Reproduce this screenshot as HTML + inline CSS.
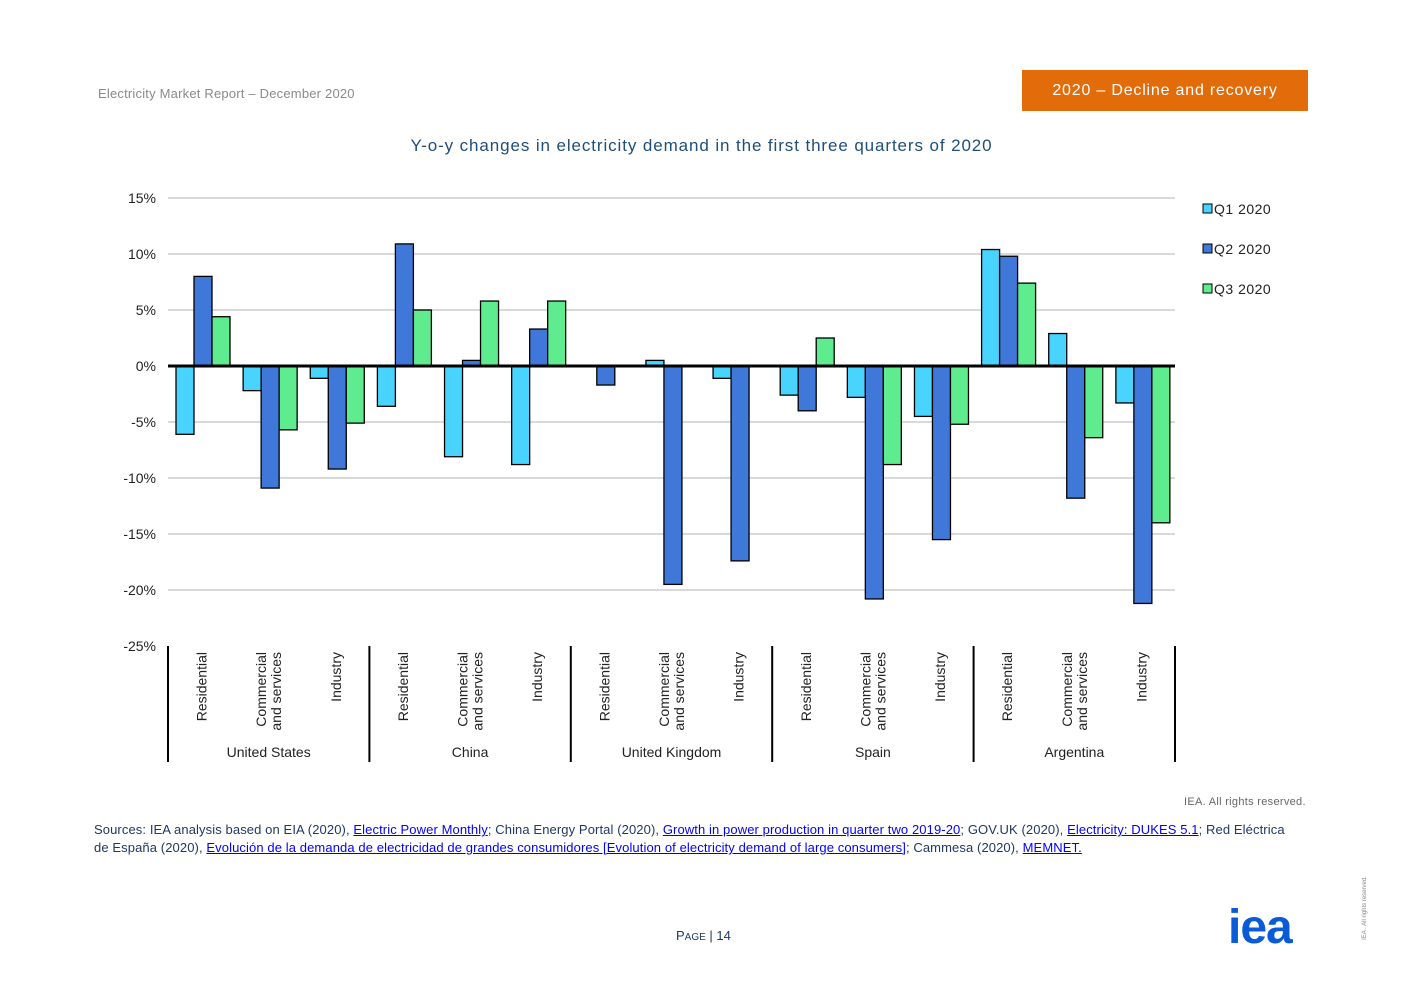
<!DOCTYPE html>
<html><head><meta charset="utf-8"><style>
body{margin:0;width:1403px;height:992px;background:#fff;font-family:"Liberation Sans",sans-serif;position:relative;overflow:hidden}
.abs{position:absolute}
</style></head><body>
<div class="abs" style="left:98px;top:86px;font-size:13px;color:#8a8a8a;letter-spacing:0.2px">Electricity Market Report – December 2020</div>
<div class="abs" style="left:1022px;top:70px;width:286px;height:41px;background:#e36c0a;color:#fff;font-size:16px;line-height:41px;text-align:center;letter-spacing:0.8px">2020 – Decline and recovery</div>
<div class="abs" style="left:0;width:1403px;top:136px;text-align:center;font-size:17px;color:#1f4e79;letter-spacing:0.9px">Y-o-y changes in electricity demand in the first three quarters of 2020</div>
<svg class="abs" style="left:0;top:0" width="1403" height="992" id="chart"></svg>
<div class="abs" style="left:1184px;top:796px;font-size:11px;color:#666;letter-spacing:0.3px">IEA. All rights reserved.</div>
<div class="abs" style="left:94px;top:821px;width:1200px;font-size:13px;line-height:18px;color:#1f3864;letter-spacing:0.1px">Sources: IEA analysis based on EIA (2020), <u style="color:#00f">Electric Power Monthly</u>; China Energy Portal (2020), <u style="color:#00f">Growth in power production in quarter two 2019-20</u>; GOV.UK (2020), <u style="color:#00f">Electricity: DUKES 5.1</u>; Red Eléctrica de España (2020), <u style="color:#00f">Evolución de la demanda de electricidad de grandes consumidores [Evolution of electricity demand of large consumers]</u>; Cammesa (2020), <u style="color:#00f">MEMNET.</u></div>
<div class="abs" style="left:676px;top:928px;font-size:13px;color:#1f3864">P<span style="font-size:10px">AGE</span> | 14</div>
<div class="abs" style="left:1228px;top:900px;font-size:48px;font-weight:bold;color:#0a5bd8;letter-spacing:-1px">iea</div>
<div class="abs" style="left:1300px;top:905px;width:130px;font-size:6px;color:#888;transform:rotate(-90deg);text-align:center">IEA . All rights reserved.</div>
<script>
const countries=["United States","China","United Kingdom","Spain","Argentina"];
const sectors=["Residential","Commercial|and services","Industry"];
const q1=[-6.1,-2.2,-1.1,-3.6,-8.1,-8.8,0,0.5,-1.1,-2.6,-2.8,-4.5,10.4,2.9,-3.3];
const q2=[8.0,-10.9,-9.2,10.9,0.5,3.3,-1.7,-19.5,-17.4,-4.0,-20.8,-15.5,9.8,-11.8,-21.2];
const q3=[4.4,-5.7,-5.1,5.0,5.8,5.8,0,0,0,2.5,-8.8,-5.2,7.4,-6.4,-14.0];
const ticks=[15,10,5,0,-5,-10,-15,-20,-25];
const seriesNames=["Q1 2020","Q2 2020","Q3 2020"];
const colors=["#49d4ff","#3f78d8","#5fec8f"];
const svg=document.getElementById('chart');const NS="http://www.w3.org/2000/svg";
const X0=168,X1=1175,n=15,gw=(X1-X0)/n;
const y=v=>366-v*11.2;
function mk(t,a,txt){const e=document.createElementNS(NS,t);for(const k in a)e.setAttribute(k,a[k]);if(txt!=null)e.textContent=txt;svg.appendChild(e);return e;}
ticks.forEach(t=>{
 if(t!==0&&t!==-25){const l=mk('line',{x1:X0,x2:X1,y1:y(t),y2:y(t),stroke:'#d9d9d9','stroke-width':2});
 
 }
 const tx=mk('text',{x:156,y:y(t)+5,'text-anchor':'end','font-size':14,fill:'#222','font-family':'Liberation Sans'},t+'%');
 
 
});
[q1,q2,q3].forEach((s,si)=>{s.forEach((v,i)=>{
 if(v===0)return;
 const x=X0+i*gw+8+si*18;const top=Math.min(y(v),y(0));
 const r=mk('rect',{x:x,y:top,width:18,height:Math.abs(y(v)-y(0)),fill:colors[si],stroke:'#000','stroke-width':1.3});
 
 
});});
const z=mk('line',{x1:X0,x2:X1,y1:y(0),y2:y(0),stroke:'#000','stroke-width':3});


for(let c=0;c<=5;c++){const xx=X0+c*3*gw;const l=mk('line',{x1:xx,x2:xx,y1:646,y2:762,stroke:'#000','stroke-width':2});
 
 }
for(let i=0;i<n;i++){const cx=X0+i*gw+gw/2;const parts=sectors[i%3].split('|');
 parts.forEach((p,pi)=>{const xx=cx+(pi-(parts.length-1)/2)*15+5;
  const t=mk('text',{x:xx,y:652,'text-anchor':'end','font-size':14,fill:'#222','font-family':'Liberation Sans',transform:`rotate(-90 ${xx} 652)`},p);
  
  });}
countries.forEach((c,ci)=>{const t=mk('text',{x:X0+(ci*3+1.5)*gw,y:757,'text-anchor':'middle','font-size':14,fill:'#222','font-family':'Liberation Sans'},c);
 
 });
seriesNames.forEach((s,si)=>{const yy=209+si*40;
 const r=mk('rect',{x:1203,y:yy-5,width:9,height:9,fill:colors[si],stroke:'#000','stroke-width':1});
 
 
 const t=mk('text',{x:1214,y:yy+5,'font-size':14,fill:'#222','font-family':'Liberation Sans','letter-spacing':0.5},s);
 
 });
</script>
</body></html>
